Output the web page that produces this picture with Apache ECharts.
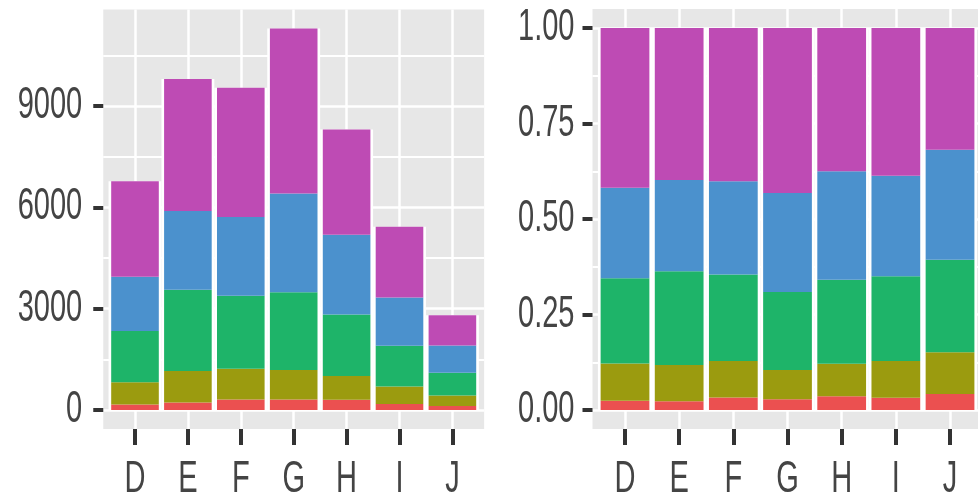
<!DOCTYPE html>
<html>
<head>
<meta charset="utf-8">
<script src="https://cdn.jsdelivr.net/npm/echarts@6/dist/echarts.min.js"></script>
<style>
html,body{margin:0;padding:0;background:#fff;}
#chart{width:978px;height:502px;}
</style>
</head>
<body>
<div id="chart"></div>
<script>
// ---- data ----
const colorCats = ['D', 'E', 'F', 'G', 'H', 'I', 'J'];
const cutNames = ['Fair', 'Good', 'Very Good', 'Premium', 'Ideal'];
// counts (left panel)
const fairCount = [163, 224, 312, 314, 303, 175, 119];
const goodCount = [662, 933, 909, 871, 702, 522, 307];
const veryGoodCount = [1513, 2400, 2164, 2299, 1824, 1204, 678];
const premiumCount = [1603, 2337, 2331, 2924, 2360, 1428, 808];
const idealCount = [2834, 3903, 3826, 4884, 3115, 2093, 896];
// proportions (right panel)
const fairProp = [0.024, 0.023, 0.033, 0.028, 0.036, 0.032, 0.042];
const goodProp = [0.098, 0.095, 0.095, 0.077, 0.085, 0.096, 0.109];
const veryGoodProp = [0.223, 0.245, 0.227, 0.204, 0.220, 0.222, 0.242];
const premiumProp = [0.237, 0.239, 0.244, 0.259, 0.284, 0.263, 0.288];
const idealProp = [0.418, 0.398, 0.401, 0.432, 0.375, 0.387, 0.319];
// tick labels
const countTickMax = 9000;
const countTickStep = 3000;
const propTickStep = 0.25;

// ---- style ----
const cutColors = ['#EB5050', '#9B9B0F', '#1EB469', '#4B91CD', '#BE4BB4'];
const FONT = "'Liberation Sans', Arial, sans-serif";
const PANEL_BG = '#E7E7E7';
const TICK = { color: '#333333', width: 4 };
const LABEL = { fontFamily: FONT, fontSize: 44, color: '#444444' };
const TEXT_SQUEEZE = 0.66;

const countSeries = [fairCount, goodCount, veryGoodCount, premiumCount, idealCount];
const propSeries = [fairProp, goodProp, veryGoodProp, premiumProp, idealProp];
const countTotals = colorCats.map((_, i) => countSeries.reduce((s, a) => s + a[i], 0));
const propTotals = colorCats.map((_, i) => propSeries.reduce((s, a) => s + a[i], 0));

// ---- layout (pixels) ----
const L = { c0: 135, step: 52.9, zeroY: 410, pxPerUnit: 0.03378, yMax: 12000 };
const R = { c0: 625, step: 54.17, zeroY: 410, topY: 28 };

function panelLayout(c0, step, top, bottom) {
  return {
    bg: { left: c0 - 0.6 * step, width: 7.2 * step, top: top, height: bottom - top },
    v: { left: c0, width: 6 * step, top: top, height: bottom - top },
    data: { left: c0 - 0.5 * step, width: 7 * step }
  };
}
const Ltop = L.zeroY - 11856.6 * L.pxPerUnit;
const Lbot = L.zeroY + 564.6 * L.pxPerUnit;
const LdataTop = L.zeroY - L.yMax * L.pxPerUnit;
const LtickTop = L.zeroY - countTickMax * L.pxPerUnit;
const Lp = panelLayout(L.c0, L.step, Ltop, Lbot);
const Rtop = R.topY - 0.05 * (R.zeroY - R.topY);
const Rbot = R.zeroY + 0.05 * (R.zeroY - R.topY);
const Rp = panelLayout(R.c0, R.step, Rtop, Rbot);

const G = { outerBoundsMode: 'none', containLabel: false, z: 0 };
const grids = [
  // 0 left panel background
  Object.assign({ show: true, backgroundColor: PANEL_BG, borderWidth: 0 }, G, Lp.bg),
  // 1 left y axis 0..9000
  Object.assign({ left: Lp.bg.left, width: Lp.bg.width, top: LtickTop, height: L.zeroY - LtickTop }, G),
  // 2 left x axis (category centres) + vertical grid lines
  Object.assign({}, G, Lp.v),
  // 3 left bars
  Object.assign({ left: Lp.data.left, width: Lp.data.width, top: LdataTop, height: L.zeroY - LdataTop }, G),
  // 4 left minor grid above 9000
  Object.assign({ left: Lp.bg.left, width: Lp.bg.width, top: LdataTop, height: LtickTop - LdataTop }, G),
  // 5 right panel background
  Object.assign({ show: true, backgroundColor: PANEL_BG, borderWidth: 0 }, G, Rp.bg),
  // 6 right y axis
  Object.assign({ left: Rp.bg.left, width: Rp.bg.width, top: R.topY, height: R.zeroY - R.topY }, G),
  // 7 right x axis + vertical lines
  Object.assign({}, G, Rp.v),
  // 8 right bars
  Object.assign({ left: Rp.data.left, width: Rp.data.width, top: R.topY, height: R.zeroY - R.topY }, G)
];

function hiddenValueAxis(gi) {
  return { type: 'value', gridIndex: gi, show: false, min: 0, max: 1, splitLine: { show: false } };
}
function centreAxis(gi) {
  return {
    type: 'category', gridIndex: gi, data: colorCats, boundaryGap: false, z: 1,
    axisLine: { show: false },
    axisTick: { show: true, interval: 0, length: 16, lineStyle: TICK },
    axisLabel: Object.assign({ margin: 29, interval: 0 }, LABEL),
    splitLine: { show: true, interval: 0, lineStyle: { color: '#FFFFFF', width: 2.5 } }
  };
}
function barAxis(gi) {
  return { type: 'category', gridIndex: gi, data: colorCats, show: false, boundaryGap: true };
}

const xAxes = [
  hiddenValueAxis(0),   // 0
  hiddenValueAxis(1),   // 1
  centreAxis(2),        // 2
  barAxis(3),           // 3 coloured bars (left)
  barAxis(3),           // 4 white backing (left)
  hiddenValueAxis(4),   // 5
  hiddenValueAxis(5),   // 6
  hiddenValueAxis(6),   // 7
  centreAxis(7),        // 8
  barAxis(8),           // 9 coloured bars (right)
  barAxis(8)            // 10 white backing (right)
];

const yAxes = [
  hiddenValueAxis(0),   // 0
  {                     // 1 left count axis
    type: 'value', gridIndex: 1, min: 0, max: countTickMax, interval: countTickStep, z: 1,
    axisLine: { show: false },
    axisTick: { show: true, length: 10, lineStyle: TICK },
    axisLabel: Object.assign({ margin: 21, formatter: v => String(v) }, LABEL),
    splitLine: { show: true, lineStyle: { color: '#FFFFFF', width: 2.5 } },
    minorTick: { show: false, splitNumber: 2 },
    minorSplitLine: { show: true, lineStyle: { color: '#FFFFFF', width: 2 } }
  },
  hiddenValueAxis(2),   // 2
  { type: 'value', gridIndex: 3, min: 0, max: L.yMax, show: false, splitLine: { show: false } }, // 3
  {                     // 4 minor line above 9000
    type: 'value', gridIndex: 4, min: countTickMax, max: L.yMax, interval: countTickStep, z: 1,
    axisLine: { show: false }, axisTick: { show: false }, axisLabel: { show: false },
    splitLine: { show: false },
    minorTick: { show: false, splitNumber: 2 },
    minorSplitLine: { show: true, lineStyle: { color: '#FFFFFF', width: 2 } }
  },
  hiddenValueAxis(5),   // 5
  {                     // 6 right proportion axis
    type: 'value', gridIndex: 6, min: 0, max: 1, interval: propTickStep, z: 1,
    axisLine: { show: false },
    axisTick: { show: true, length: 10, lineStyle: TICK },
    axisLabel: Object.assign({ margin: 18, formatter: v => v.toFixed(2) }, LABEL),
    splitLine: { show: true, lineStyle: { color: '#FFFFFF', width: 2.5 } },
    minorTick: { show: false, splitNumber: 2 },
    minorSplitLine: { show: true, lineStyle: { color: '#FFFFFF', width: 2 } }
  },
  hiddenValueAxis(7),   // 7
  { type: 'value', gridIndex: 8, min: 0, max: 1, show: false, splitLine: { show: false } } // 8
];

const series = [];
// white backing behind each bar (light gap between neighbouring bars)
series.push({ type: 'bar', name: 'gap-count', xAxisIndex: 4, yAxisIndex: 3, data: countTotals,
  barWidth: '100%', silent: true, z: 2, itemStyle: { color: '#FFFFFF' } });
series.push({ type: 'bar', name: 'gap-prop', xAxisIndex: 10, yAxisIndex: 8, data: propTotals,
  barWidth: '100%', silent: true, z: 2, itemStyle: { color: '#FFFFFF' } });
cutNames.forEach((name, k) => {
  series.push({ type: 'bar', name: name, stack: 'count', xAxisIndex: 3, yAxisIndex: 3,
    data: countSeries[k], barWidth: '90%', z: 3, itemStyle: { color: cutColors[k] } });
});
cutNames.forEach((name, k) => {
  series.push({ type: 'bar', name: name, stack: 'prop', xAxisIndex: 9, yAxisIndex: 8,
    data: propSeries[k], barWidth: '90%', z: 3, itemStyle: { color: cutColors[k] } });
});

const chart = echarts.init(document.getElementById('chart'), null, { renderer: 'canvas' });
chart.setOption({
  animation: false,
  backgroundColor: '#FFFFFF',
  grid: grids,
  xAxis: xAxes,
  yAxis: yAxes,
  series: series
});

// the reference uses horizontally condensed lettering: squeeze the label texts
try {
  const zr = chart.getZr();
  const visit = el => {
    if (el.type === 'text' && el.style && el.style.text != null) {
      el.scaleX = TEXT_SQUEEZE;
      el.markRedraw();
    }
  };
  zr.storage.getRoots().forEach(root => {
    visit(root);
    if (root.traverse) root.traverse(visit);
  });
  zr.refreshImmediately();
} catch (e) { /* keep default text if internals differ */ }
</script>
</body>
</html>
